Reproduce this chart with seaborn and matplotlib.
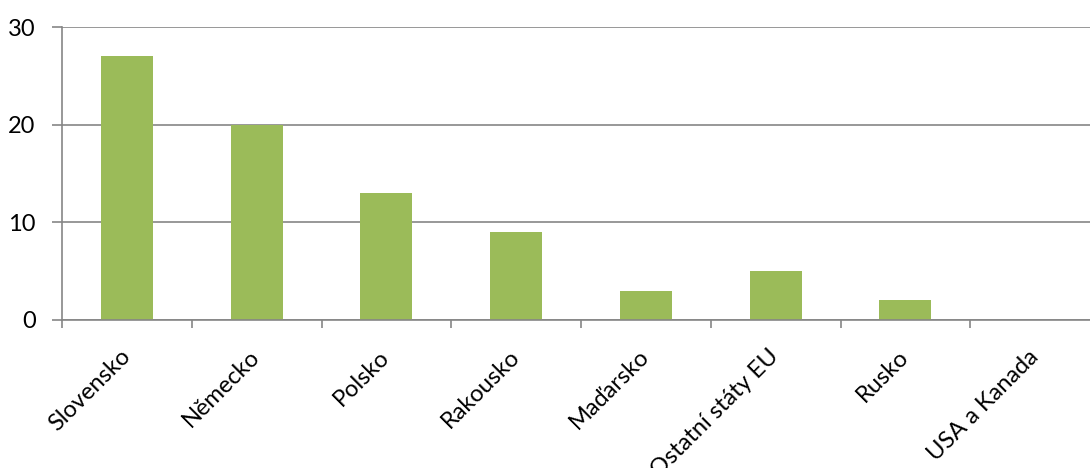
import matplotlib
matplotlib.use("Agg")
import matplotlib.pyplot as plt
import seaborn as sns
import pandas as pd

categories = ["Slovensko", "Německo", "Polsko", "Rakousko", "Maďarsko",
              "Ostatní státy EU", "Rusko", "USA a Kanada"]
values = [27, 20, 13, 9, 3, 5, 2, 0]
yticks = [0, 10, 20, 30]

sns.set_theme(style="white")
plt.rcParams['font.family'] = ['Lato', 'DejaVu Sans']

df = pd.DataFrame({"cat": categories, "val": values})

fig = plt.figure(figsize=(10.9, 4.68), dpi=100)
W, H = 1090, 468
left, right, top, bottom = 62, 1100, 27, 320
ax = fig.add_axes([left / W, 1 - bottom / H, (right - left) / W, (bottom - top) / H])

sns.barplot(data=df, x="cat", y="val", color="#9BBB59", width=0.4,
            saturation=1, ax=ax, edgecolor="none")

ax.set_xlim(-0.5, len(categories) - 0.5)
ax.set_ylim(0, 30)
ax.set_yticks(yticks)
ax.set_yticklabels([str(t) for t in yticks], fontsize=17, color="black")
ax.yaxis.grid(True, color="#868686", linewidth=1.2)
ax.set_axisbelow(True)
ax.set_xlabel("")
ax.set_ylabel("")

for s in ["top", "right"]:
    ax.spines[s].set_visible(False)
for s in ["left", "bottom"]:
    ax.spines[s].set_color("#868686")
    ax.spines[s].set_linewidth(1.2)

ax.tick_params(axis="y", length=7, width=1.2, color="#868686", direction="out", pad=12, left=True)

# category ticks at boundaries
ax.set_xticks([i - 0.5 for i in range(len(categories))], minor=False)
ax.set_xticklabels([])
ax.tick_params(axis="x", which="major", length=6, width=1.2, color="#868686", direction="out", bottom=True)
ax.set_xticks(range(len(categories)), minor=True)
ax.set_xticklabels(categories, minor=True, rotation=45, ha="right", va="center",
                   rotation_mode="anchor", fontsize=17, color="black")
ax.tick_params(axis="x", which="minor", length=0, pad=24)

fig.savefig("out.png", dpi=100)
